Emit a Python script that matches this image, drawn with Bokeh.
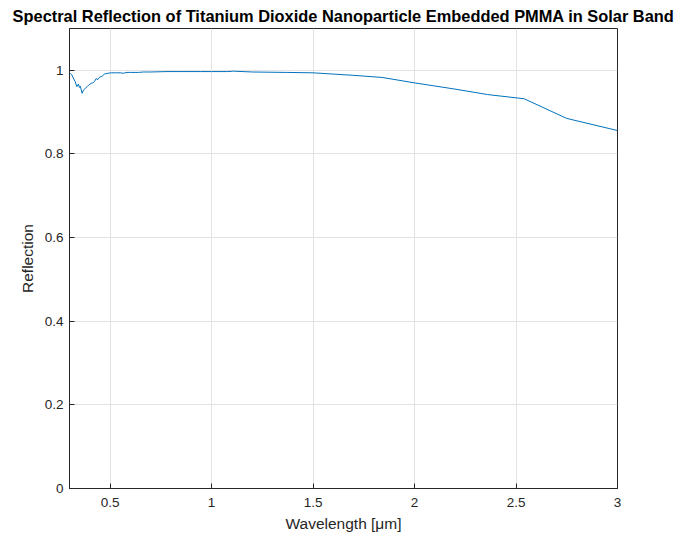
from bokeh.plotting import figure
from bokeh.models import FixedTicker, NumeralTickFormatter, Range1d
from bokeh.embed import file_html
from bokeh.resources import INLINE

# Wavelength (µm) and reflection values
wavelength = [0.300, 0.305, 0.311, 0.318, 0.328, 0.336, 0.344, 0.349, 0.353, 0.357,
              0.362, 0.369, 0.378, 0.387, 0.395, 0.407, 0.415, 0.423, 0.431, 0.440,
              0.447, 0.461, 0.472, 0.489, 0.505, 0.526, 0.550, 0.566, 0.583, 0.600,
              0.640, 0.664, 0.700, 0.780, 0.850, 0.944, 1.000, 1.080, 1.107, 1.200,
              1.371, 1.500, 1.600, 1.698, 1.840, 2.000, 2.200, 2.360, 2.540, 2.750, 3.000]
reflection = [0.993, 0.992, 0.990, 0.982, 0.973, 0.961, 0.967, 0.959, 0.962, 0.955,
              0.945, 0.953, 0.957, 0.961, 0.965, 0.969, 0.970, 0.973, 0.980, 0.978,
              0.983, 0.986, 0.991, 0.993, 0.994, 0.994, 0.994, 0.993, 0.995, 0.995,
              0.995, 0.996, 0.996, 0.997, 0.997, 0.997, 0.997, 0.997, 0.998, 0.996,
              0.995, 0.994, 0.991, 0.988, 0.983, 0.970, 0.955, 0.942, 0.932, 0.885, 0.856]

x_ticks = [0.5, 1.0, 1.5, 2.0, 2.5, 3.0]
y_ticks = [0.0, 0.2, 0.4, 0.6, 0.8, 1.0]

title_text = "Spectral Reflection of Titanium Dioxide Nanoparticle Embedded PMMA in Solar Band"

FONT = "Liberation Sans"
AXC = "#262626"

p = figure(width=675, height=535, output_backend="svg", toolbar_location=None,
           x_range=Range1d(0.3, 3.0), y_range=Range1d(0.0, 1.1),
           min_border_left=69, min_border_right=58, min_border_top=28, min_border_bottom=47)

p.title.text = title_text
p.title.align = "center"
p.title.text_font = FONT
p.title.text_font_size = "16.4px"
p.title.text_font_style = "bold"
p.title.text_color = "#000000"
p.title.offset = 0
p.title.standoff = 8

p.line(wavelength, reflection, line_color="#0072BD", line_width=1)

for ax, ticks, label in ((p.xaxis[0], x_ticks, "Wavelength [μm]"), (p.yaxis[0], y_ticks, "Reflection")):
    ax.ticker = FixedTicker(ticks=ticks)
    ax.formatter = NumeralTickFormatter(format="0.[0]")
    ax.axis_label = label
    ax.axis_label_text_font = FONT
    ax.axis_label_text_font_size = "15.5px"
    ax.axis_label_text_font_style = "normal"
    ax.axis_label_text_color = AXC
    ax.major_label_text_font = FONT
    ax.major_label_text_font_size = "13.5px"
    ax.major_label_text_color = AXC
    ax.axis_line_color = AXC
    ax.major_tick_line_color = AXC
    ax.major_tick_in = 5
    ax.major_tick_out = 0
    ax.minor_tick_line_color = None
    ax.major_label_standoff = 6
    ax.axis_label_standoff = 6
p.xaxis[0].major_label_standoff = 9
p.xaxis[0].axis_label_standoff = 5

p.xgrid.ticker = FixedTicker(ticks=x_ticks)
p.ygrid.ticker = FixedTicker(ticks=y_ticks)
p.grid.grid_line_color = "#e3e3e3"
p.grid.grid_line_width = 1
p.outline_line_color = AXC
p.outline_line_width = 1
p.background_fill_color = "white"
p.border_fill_color = "white"

open("out.html", "w").write(file_html(p, INLINE))
